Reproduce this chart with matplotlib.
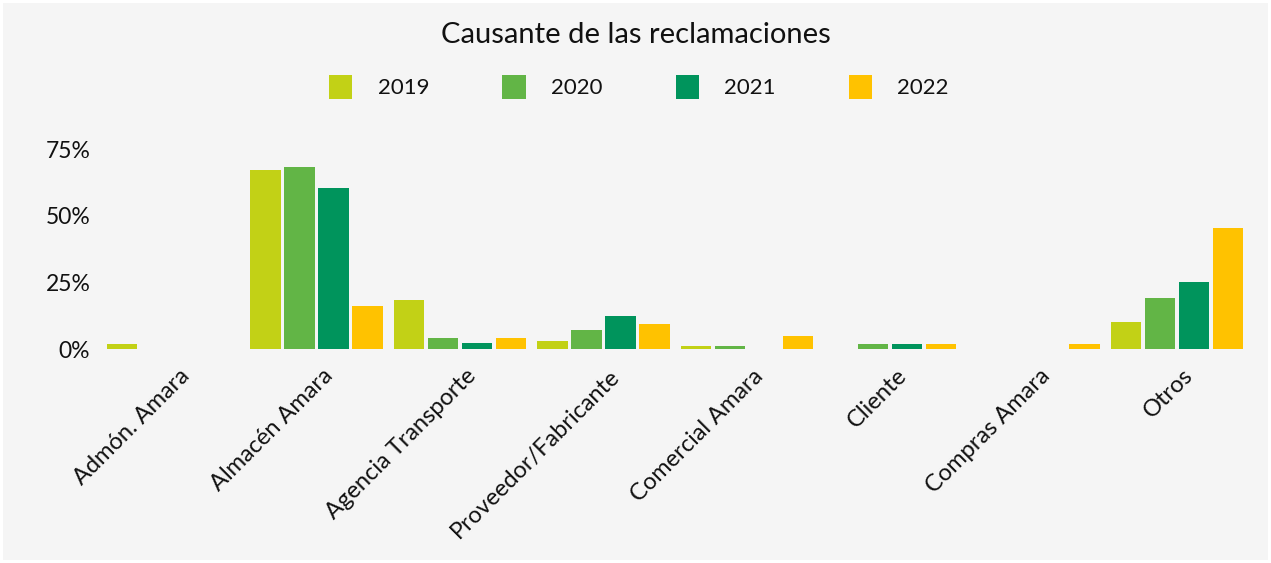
import matplotlib
matplotlib.use("Agg")
import matplotlib.pyplot as plt
import matplotlib.transforms as mtrans
from matplotlib.patches import Rectangle, Patch
from matplotlib.ticker import FuncFormatter

plt.rcParams['font.family'] = ['Lato', 'DejaVu Sans']

categories = ["Admón. Amara", "Almacén Amara", "Agencia Transporte", "Proveedor/Fabricante",
              "Comercial Amara", "Cliente", "Compras Amara", "Otros"]
years = ["2019", "2020", "2021", "2022"]
v2019 = [1.8, 67.2, 18.4, 3.0, 1.1, 0.0, 0.0, 10.1]
v2020 = [0.0, 68.2, 4.0, 7.1, 1.1, 1.8, 0.0, 19.1]
v2021 = [0.0, 60.2, 2.1, 12.4, 0.0, 1.8, 0.0, 25.1]
v2022 = [0.0, 16.1, 4.1, 9.4, 4.9, 1.8, 1.8, 45.4]
series = [v2019, v2020, v2021, v2022]
colors = ["#c2d116", "#62b546", "#00945c", "#ffc200"]

W, H = 1271, 563
fig = plt.figure(figsize=(W / 100, H / 100), dpi=100, facecolor="white")
fig.patches.append(Rectangle((3 / W, 3 / H), 1 - 6 / W, 1 - 6 / H, transform=fig.transFigure,
                             facecolor="#f5f5f5", edgecolor="none", zorder=-10))

ax = fig.add_axes([101.4 / W, 214 / H, 1147.3 / W, 200 / H])
ax.set_facecolor("none")

step = 0.237
bw = 0.212
for i, (vals, c) in enumerate(zip(series, colors)):
    xs = [k + (i - 1.5) * step for k in range(len(categories))]
    ax.bar(xs, [v / 100 for v in vals], width=bw, color=c, linewidth=0)

ax.set_xlim(-0.5, len(categories) - 0.5)
ax.set_ylim(0, 0.75)
ax.set_yticks([0, 0.25, 0.5, 0.75])
ax.yaxis.set_major_formatter(FuncFormatter(lambda v, p: f"{int(round(v * 100))}%"))
ax.set_xticks(range(len(categories)))
ax.set_xticklabels(categories, rotation=45, ha="right", va="center", rotation_mode="anchor")
for s in ax.spines.values():
    s.set_visible(False)
ax.tick_params(axis="both", length=0, colors="#111111")
ax.tick_params(axis="y", pad=8, labelsize=16.5)
ax.tick_params(axis="x", pad=17, labelsize=17)
off = mtrans.ScaledTranslation(13 / 100, 0, fig.dpi_scale_trans)
for lab in ax.get_xticklabels():
    lab.set_transform(lab.get_transform() + off)

fig.text(0.5, 1 - 35 / H, "Causante de las reclamaciones", ha="center", va="center",
         fontsize=21, color="#111111")

handles = [Patch(facecolor=c, edgecolor="none") for c in colors]
fig.legend(handles, years, loc="center", bbox_to_anchor=(639 / W, 1 - 87 / H), ncol=4,
           frameon=False, fontsize=16, handlelength=1.05, handleheight=1.3,
           handletextpad=1.13, columnspacing=3.3, labelcolor="#111111")

fig.savefig("out.png", dpi=100, facecolor=fig.get_facecolor())
